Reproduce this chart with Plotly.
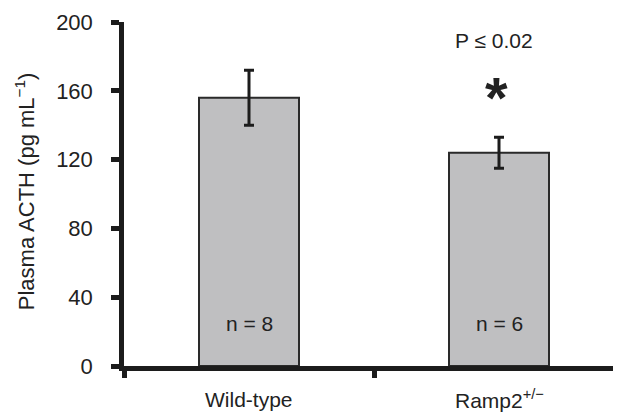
import plotly.graph_objects as go

categories = ["Wild-type", "Ramp2<sup>+/−</sup>"]
means = [156, 124]
errors = [16, 9]
n_labels = ["n = 8", "n = 6"]
y_ticks = [0, 40, 80, 120, 160, 200]
x_pos = [0, 1]

FONT = "Liberation Sans, Arial, sans-serif"
DARK = "#1c1c1c"
TXT = "#222222"

fig = go.Figure()
fig.add_trace(go.Bar(
    x=x_pos, y=means, width=0.4,
    marker=dict(color="#bfbfc1", line=dict(color="#2a2a2a", width=2)),
    error_y=dict(type="data", array=errors, visible=True, color=DARK, thickness=3, width=5),
    showlegend=False,
))

annotations = []
for xp, cat, nl in zip(x_pos, categories, n_labels):
    annotations.append(dict(x=xp, y=-0.097, xref="x", yref="paper", text=cat, showarrow=False,
                            font=dict(size=21, color=TXT, family=FONT), yanchor="middle"))
    annotations.append(dict(x=xp, y=24.5, xref="x", yref="y", text=nl, showarrow=False,
                            font=dict(size=21, color=TXT, family=FONT), yanchor="middle"))

annotations.append(dict(x=0.978, y=189, xref="x", yref="y", text="P ≤ 0.02", showarrow=False,
                        font=dict(size=21, color=TXT, family=FONT), yanchor="middle"))
annotations.append(dict(x=0.99, y=156, xref="x", yref="y", text="<b>*</b>", showarrow=False,
                        font=dict(size=58, color=TXT, family=FONT), yanchor="middle"))
annotations.append(dict(x=-0.2, y=0.507, xref="paper", yref="paper",
                        text="Plasma ACTH (pg mL<sup>−1</sup>)", showarrow=False, textangle=-90,
                        font=dict(size=22, color=TXT, family=FONT), xanchor="center", yanchor="middle"))

fig.update_layout(
    width=613, height=404,
    margin=dict(l=116, r=0, t=14, b=46),
    paper_bgcolor="white", plot_bgcolor="white",
    annotations=annotations,
    xaxis=dict(range=[-0.5, 1.488], tickvals=[-0.5, 0.5, 1.5], showticklabels=False,
               ticks="outside", ticklen=7, tickwidth=4.5, tickcolor=DARK,
               showline=True, linecolor=DARK, linewidth=4.5, showgrid=False, zeroline=False),
    yaxis=dict(range=[0, 200], tickvals=y_ticks, ticks="outside", ticklen=8, tickwidth=4.5,
               tickcolor=DARK, showline=True, linecolor=DARK, linewidth=4.5, showgrid=False,
               zeroline=False, ticklabelstandoff=14,
               tickfont=dict(size=22, color=TXT, family=FONT)),
)

fig.write_html("out.html")
